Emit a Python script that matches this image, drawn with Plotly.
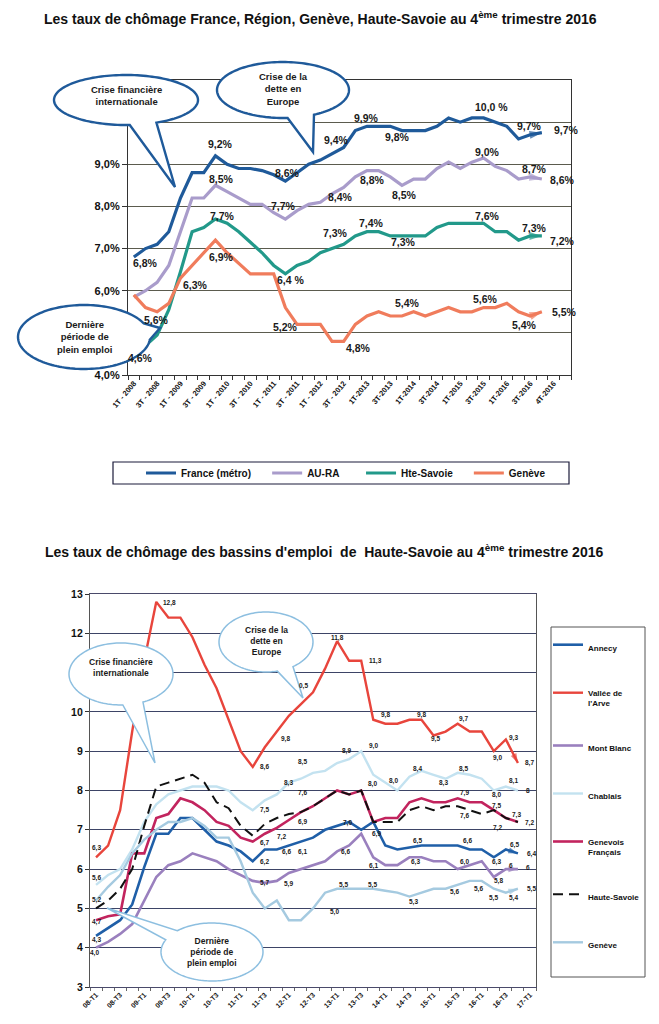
import numpy as np
import plotly.graph_objects as go

# The page body has an 8px margin, so the figure is drawn from page pixel (8, 8).
OFF = 8
W, H = 659 - OFF, 1024 - OFF
FONT = "Liberation Sans, Arial, sans-serif"

# ================= Chart 1 data =================
top_ticktext = ["1T - 2008", "3T - 2008", "1T - 2009", "3T - 2009", "1T - 2010", "3T - 2010",
                "1T - 2011", "3T - 2011", "1T - 2012", "3T - 2012", "1T-2013", "3T-2013",
                "1T-2014", "3T-2014", "1T-2015", "3T-2015", "1T-2016", "3T-2016", "4T-2016"]
top_q = list(range(36))
france = [6.8, 7.0, 7.1, 7.4, 8.2, 8.8, 8.8, 9.2, 9.0, 8.9, 8.9, 8.85, 8.75, 8.6, 8.8, 9.0, 9.1, 9.25,
          9.4, 9.8, 9.9, 9.9, 9.9, 9.8, 9.8, 9.8, 9.9, 10.1, 10.0, 10.1, 10.1, 10.0, 9.9, 9.6, 9.7, 9.75]
aura = [5.85, 6.0, 6.2, 6.6, 7.4, 8.2, 8.2, 8.5, 8.35, 8.2, 8.05, 8.05, 7.85, 7.7, 7.9, 8.05, 8.1, 8.3,
        8.45, 8.7, 8.85, 8.85, 8.7, 8.5, 8.65, 8.65, 8.9, 9.05, 8.9, 9.05, 9.15, 8.95, 8.85, 8.65, 8.7, 8.65]
hte_savoie = [4.6, 4.7, 4.95, 5.55, 6.45, 7.4, 7.5, 7.7, 7.6, 7.4, 7.15, 6.9, 6.6, 6.4, 6.6, 6.7, 6.9, 7.0,
              7.1, 7.3, 7.4, 7.4, 7.3, 7.3, 7.3, 7.3, 7.5, 7.6, 7.6, 7.6, 7.6, 7.4, 7.4, 7.2, 7.3, 7.3]
geneve_top = [5.9, 5.6, 5.5, 5.7, 6.3, 6.6, 6.9, 7.2, 6.9, 6.65, 6.4, 6.4, 6.4, 5.6, 5.2, 5.2, 5.2, 4.8,
              4.8, 5.2, 5.4, 5.5, 5.4, 5.4, 5.5, 5.4, 5.5, 5.6, 5.5, 5.5, 5.6, 5.6, 5.7, 5.5, 5.4, 5.5]

top_names = ["France (métro)", "AU-RA", "Hte-Savoie", "Genève"]
top_y_labelled = [4, 6, 7, 8, 9]      # tick labels visible in the reference
top_y_gridonly = [5, 10]              # grid lines whose labels are hidden by the bubbles

# value labels of chart 1: (quarter position, value position, text)
top_labels = [
    (0.96, 6.65, "6,8%"), (7.4, 9.48, "9,2%"), (13.2, 8.8, "8,6%"), (17.4, 9.57, "9,4%"),
    (20.0, 10.1, "9,9%"), (22.6, 9.64, "9,8%"), (30.7, 10.37, "10,0 %"), (33.9, 9.9, "9,7%"),
    (37.1, 9.82, "9,7%"),
    (7.5, 8.66, "8,5%"), (12.8, 8.02, "7,7%"), (17.7, 8.23, "8,4%"), (20.5, 8.63, "8,8%"),
    (23.2, 8.26, "8,5%"), (30.3, 9.29, "9,0%"), (34.4, 8.89, "8,7%"), (36.8, 8.63, "8,6%"),
    (0.6, 4.4, "4,6%"), (7.6, 7.78, "7,7%"), (13.5, 6.26, "6,4 %"), (17.3, 7.38, "7,3%"),
    (20.4, 7.6, "7,4%"), (23.1, 7.15, "7,3%"), (30.3, 7.78, "7,6%"), (34.4, 7.5, "7,3%"),
    (36.8, 7.19, "7,2%"),
    (7.5, 6.81, "6,9%"), (5.25, 6.14, "6,3%"), (1.96, 5.31, "5,6%"), (13.0, 5.15, "5,2%"),
    (19.25, 4.63, "4,8%"), (23.5, 5.7, "5,4%"), (30.2, 5.8, "5,6%"), (33.5, 5.19, "5,4%"),
    (36.9, 5.49, "5,5%"),
]

# ================= Chart 2 data =================
bot_ticktext = ["08-T1", "08-T3", "09-T1", "09-T3", "10-T1", "10-T3", "11-T1", "11-T3", "12-T1",
                "12-T3", "13-T1", "13-T3", "14-T1", "14-T3", "15-T1", "15-T3", "16-T1", "16-T3", "17-T1"]
bot_q = list(range(36))
annecy = [4.3, 4.5, 4.7, 5.1, 6.05, 6.9, 6.9, 7.3, 7.3, 7.0, 6.7, 6.6, 6.45, 6.2, 6.5, 6.5, 6.6, 6.7,
          6.8, 7.0, 7.1, 7.2, 7.0, 7.2, 6.6, 6.5, 6.55, 6.6, 6.6, 6.6, 6.6, 6.5, 6.5, 6.3, 6.5, 6.4]
arve = [6.3, 6.6, 7.5, 9.5, 11.3, 12.8, 12.4, 12.4, 11.9, 11.2, 10.6, 9.8, 9.0, 8.6, 9.1, 9.5, 9.9, 10.2,
        10.5, 11.1, 11.8, 11.3, 11.3, 9.8, 9.7, 9.7, 9.8, 9.8, 9.4, 9.5, 9.7, 9.5, 9.5, 9.0, 9.3, 8.7]
mont_blanc = [4.0, 4.15, 4.35, 4.6, 5.2, 5.8, 6.1, 6.2, 6.4, 6.3, 6.2, 6.0, 5.85, 5.7, 5.65, 5.7, 5.9, 6.0,
              6.1, 6.2, 6.45, 6.6, 6.9, 6.3, 6.1, 6.1, 6.3, 6.3, 6.2, 6.2, 6.0, 6.1, 6.2, 5.8, 6.0, 6.0]
chablais = [5.6, 5.85, 6.0, 6.5, 7.2, 7.65, 7.9, 8.0, 8.1, 8.1, 8.1, 8.0, 7.7, 7.5, 7.75, 7.9, 8.2, 8.3,
            8.45, 8.5, 8.7, 8.8, 9.0, 8.4, 8.2, 8.0, 8.35, 8.5, 8.4, 8.3, 8.45, 8.4, 8.3, 8.0, 8.1, 8.0]
genevois = [4.7, 4.8, 4.85, 6.4, 6.4, 7.3, 7.4, 7.8, 7.7, 7.5, 7.2, 7.1, 6.8, 6.7, 6.9, 7.05, 7.25, 7.45,
            7.6, 7.8, 8.0, 7.9, 8.0, 7.2, 7.3, 7.3, 7.7, 7.8, 7.7, 7.7, 7.8, 7.7, 7.7, 7.5, 7.3, 7.2]
haute_savoie = [5.0, 5.2, 5.5, 6.0, 7.1, 8.1, 8.2, 8.3, 8.4, 8.2, 7.7, 7.55, 7.1, 6.85, 7.15, 7.3, 7.4, 7.45,
                7.6, 7.8, 8.0, 7.9, 8.0, 7.2, 7.2, 7.2, 7.5, 7.6, 7.5, 7.6, 7.6, 7.5, 7.4, 7.5, 7.3, 7.2]
geneve_bot = [5.2, 5.55, 5.85, 6.4, 6.75, 7.0, 7.2, 7.2, 7.3, 7.1, 6.8, 6.8, 6.2, 5.4, 5.0, 5.2, 4.7, 4.7,
              5.0, 5.4, 5.5, 5.5, 5.5, 5.5, 5.45, 5.4, 5.3, 5.4, 5.5, 5.5, 5.6, 5.7, 5.7, 5.5, 5.4, 5.5]

bot_names = ["Annecy", "Vallée de<br>l'Arve", "Mont Blanc", "Chablais", "Genevois<br>Français",
             "Haute-Savoie", "Genève"]

bot_labels = [
    (6.1, 12.78, "12,8"), (0.0, 6.53, "6,3"), (0.0, 5.77, "5,6"), (0.05, 5.21, "5,2"),
    (0.05, 4.66, "4,7"), (0.05, 4.2, "4,3"), (-0.1, 3.86, "4,0"),
    (14.0, 7.5, "7,5"), (17.1, 7.19, "6,9"), (15.4, 6.82, "7,2"), (14.0, 6.67, "6,7"),
    (15.8, 6.44, "6,6"), (17.1, 6.44, "6,1"), (14.0, 6.19, "6,2"), (14.0, 5.64, "5,7"),
    (16.0, 5.62, "5,9"), (17.1, 7.93, "7,6"), (16.0, 8.2, "8,3"), (17.1, 8.73, "8,5"),
    (15.7, 9.32, "9,8"), (14.0, 8.59, "8,6"), (17.2, 10.66, "0,5"),
    (20.0, 11.87, "11,8"), (23.15, 11.3, "11,3"), (24.0, 9.92, "9,8"), (27.0, 9.92, "9,8"),
    (28.2, 9.3, "9,5"), (30.5, 9.81, "9,7"), (33.3, 8.83, "9,0"), (34.6, 9.33, "9,3"),
    (36.0, 8.69, "8,7"),
    (20.8, 9.01, "8,9"), (23.0, 9.14, "9,0"), (22.9, 8.17, "8,0"), (24.7, 8.24, "8,0"),
    (26.7, 8.54, "8,4"), (28.8, 8.2, "8,3"), (30.5, 8.54, "8,5"), (33.25, 7.89, "8,0"),
    (34.6, 8.24, "8,1"), (35.8, 8.0, "8"),
    (30.6, 7.94, "7,9"), (33.2, 7.61, "7,5"), (30.6, 7.35, "7,6"), (34.9, 7.38, "7,3"),
    (33.3, 7.05, "7,2"), (36.0, 7.18, "7,2"),
    (20.9, 7.17, "7,0"), (23.3, 6.89, "6,9"), (26.7, 6.72, "6,5"), (30.8, 6.72, "6,6"),
    (34.7, 6.61, "6,5"), (36.1, 6.38, "6,4"),
    (20.7, 6.44, "6,6"), (23.0, 6.09, "6,1"), (26.5, 6.19, "6,3"), (30.6, 6.19, "6,0"),
    (33.25, 6.19, "6,3"), (33.4, 5.7, "5,8"), (34.4, 6.1, "6"), (35.8, 6.05, "6"),
    (20.5, 5.6, "5,5"), (22.9, 5.6, "5,5"), (26.3, 5.16, "5,3"), (19.8, 4.92, "5,0"),
    (29.7, 5.42, "5,6"), (31.7, 5.49, "5,6"), (33.0, 5.26, "5,5"), (34.6, 5.26, "5,4"),
    (36.1, 5.49, "5,5"),
]

# ================= helpers (layout geometry in page pixels) =================
def px(x):
    return (x - OFF) / W


def py(y):
    return 1 - (y - OFF) / H


def bubble_path(cx, cy, rx, ry, a_from, a_to, tip):
    th = np.radians(np.linspace(a_from, a_to, 140))
    pts = list(zip(cx + rx * np.cos(th), cy + ry * np.sin(th))) + [tip]
    return "M " + " L ".join(f"{px(x):.5f},{py(y):.5f}" for x, y in pts) + " Z"


fig = go.Figure()

# ---------------- chart 1 traces ----------------
top_colors = ["#1F5A9A", "#A99CCB", "#22998A", "#F07C5C"]
top_series = [france, aura, hte_savoie, geneve_top]
NB = "\u00a0"
top_pad = [NB * 4, NB * 6, NB * 4, ""]   # spacing of the horizontal legend entries
for name, pad, ys, col in zip(top_names, top_pad, top_series, top_colors):
    fig.add_trace(go.Scatter(x=top_q, y=ys, mode="lines", name=name + pad,
                             line=dict(color=col, width=3.2),
                             xaxis="x", yaxis="y", legend="legend", legendgroup=name))
for ys, col in zip(top_series, top_colors):
    fig.add_trace(go.Scatter(x=top_q[-2:], y=ys[-2:], mode="markers", showlegend=False,
                             hoverinfo="skip", xaxis="x", yaxis="y",
                             marker=dict(symbol="arrow", angleref="previous", size=[0, 13],
                                         color=col, line=dict(width=0))))

# ---------------- chart 2 traces ----------------
bot_series = [annecy, arve, mont_blanc, chablais, genevois, haute_savoie, geneve_bot]
bot_colors = ["#1F5FA8", "#E8453C", "#9A80BE", "#C3E2F0", "#C2245E", "#111111", "#A5CAE0"]
bot_dash = ["solid", "solid", "solid", "solid", "solid", "10px,6px", "solid"]
bot_width = [2.6, 2.4, 2.6, 2.4, 2.6, 2.0, 2.4]
for name, ys, col, d, w in zip(bot_names, bot_series, bot_colors, bot_dash, bot_width):
    fig.add_trace(go.Scatter(x=bot_q, y=ys, mode="lines", name=name,
                             line=dict(color=col, width=w, dash=d),
                             xaxis="x2", yaxis="y2", legend="legend2", legendgroup=name))
for ys, col in zip([annecy, arve, mont_blanc, geneve_bot], ["#1F5FA8", "#E8453C", "#9A80BE", "#A5CAE0"]):
    fig.add_trace(go.Scatter(x=bot_q[-2:], y=ys[-2:], mode="markers", showlegend=False,
                             hoverinfo="skip", xaxis="x2", yaxis="y2",
                             marker=dict(symbol="arrow", angleref="previous", size=[0, 10],
                                         color=col, line=dict(width=0))))

# ---------------- annotations ----------------
ann = []
ann.append(dict(text="Les taux de chômage France, Région, Genève, Haute-Savoie au 4<sup>ème</sup> trimestre 2016",
                x=px(320), y=py(18), xref="paper", yref="paper", showarrow=False,
                xanchor="center", yanchor="middle",
                font=dict(family=FONT, size=14, color="#111", weight="bold")))
ann.append(dict(text="Les taux de chômage des bassins d'emploi\u00a0 de\u00a0 Haute-Savoie au 4<sup>ème</sup> trimestre 2016",
                x=px(324), y=py(551), xref="paper", yref="paper", showarrow=False,
                xanchor="center", yanchor="middle",
                font=dict(family=FONT, size=14, color="#111", weight="bold")))
for x, y, t in top_labels:
    ann.append(dict(text=t, x=x, y=y, xref="x", yref="y", showarrow=False,
                    font=dict(family=FONT, size=10.5, color="#1a1a1a", weight="bold")))
for x, y, t in bot_labels:
    ann.append(dict(text=t, x=x, y=y, xref="x2", yref="y2", showarrow=False,
                    font=dict(family=FONT, size=6.5, color="#1a1a1a", weight="bold")))

# speech bubbles (page pixels): centre, radii, arc range, tail tip, text centre y, text, style
bubbles = [
    ((126, 100), (72, 25), (87, 425), (175, 187), 96, "Crise financière<br>internationale", "#1F5A9A", 2.4, 9.5),
    ((283, 90), (66, 28), (86, 422), (313, 152), 89, "Crise de la<br>dette en<br>Europe", "#1F5A9A", 2.4, 9.5),
    ((84, 337), (66, 32), (5, 335), (160, 328), 337, "Dernière<br>période de<br>plein emploi", "#1F5A9A", 2.4, 9.5),
    ((121, 674), (52, 31), (88, 425), (155, 763), 667, "Crise financière<br>internationale", "#8DBFE0", 1.5, 8.5),
    ((266, 642), (47, 30), (76, 415), (303, 698), 641, "Crise de la<br>dette en<br>Europe", "#8DBFE0", 1.5, 8.5),
    ((212, 952), (51, 29), (227, 565), (107, 908), 952, "Dernière<br>période de<br>plein emploi", "#8DBFE0", 1.5, 8.5),
]
shapes = []
for (cx, cy), (rx, ry), (a0, a1), tip, ty, txt, col, lw, fs in bubbles:
    shapes.append(dict(type="path", path=bubble_path(cx, cy, rx, ry, a0, a1, tip),
                       xref="paper", yref="paper", fillcolor="white",
                       line=dict(color=col, width=lw), layer="above"))
    ann.append(dict(text=txt, x=px(cx), y=py(ty), xref="paper", yref="paper", showarrow=False,
                    xanchor="center", yanchor="middle",
                    font=dict(family=FONT, size=fs, color="#1a1a1a", weight="bold")))

# legend frames
shapes.append(dict(type="rect", xref="paper", yref="paper", x0=px(113), x1=px(569), y0=py(484), y1=py(462),
                   line=dict(color="#1b1b3a", width=1.2), fillcolor="rgba(0,0,0,0)", layer="below"))
shapes.append(dict(type="rect", xref="paper", yref="paper", x0=px(551), x1=px(645), y0=py(977), y1=py(627),
                   line=dict(color="#555555", width=1), fillcolor="rgba(0,0,0,0)", layer="below"))

tickfont_b = dict(family=FONT, color="#111", weight="bold")

fig.update_layout(
    width=W, height=H,
    margin=dict(l=0, r=0, t=0, b=0, autoexpand=False),
    paper_bgcolor="white", plot_bgcolor="white",
    showlegend=True,
    annotations=ann, shapes=shapes,
    xaxis=dict(domain=[px(128), px(571)], range=[-0.5, 37.5], anchor="y",
               tickmode="array", tickvals=list(range(0, 37, 2)), ticktext=top_ticktext,
               tickangle=-50, ticks="", showgrid=False, zeroline=False,
               showline=True, linecolor="#333", linewidth=1.2, mirror=True,
               tickfont=dict(size=7.5, **tickfont_b),
               minor=dict(tickmode="array", tickvals=[k - 0.5 for k in range(39)],
                          ticks="outside", ticklen=4, tickcolor="#333", showgrid=False)),
    yaxis=dict(domain=[py(375), py(80)], range=[4, 11], anchor="x",
               tickmode="array", tickvals=top_y_labelled,
               ticktext=[f"{v},0%" for v in top_y_labelled],
               ticks="outside", ticklen=5, tickcolor="#333",
               showgrid=True, gridcolor="#5b5b4e", gridwidth=1, zeroline=False,
               showline=True, linecolor="#333", linewidth=1.2, mirror=True,
               tickfont=dict(size=11, **tickfont_b),
               minor=dict(tickmode="array", tickvals=top_y_gridonly, ticks="",
                          showgrid=True, gridcolor="#5b5b4e", gridwidth=1)),
    xaxis2=dict(domain=[px(90), px(536)], range=[-0.5, 36.5], anchor="y2",
                tickmode="array", tickvals=list(range(0, 37, 2)), ticktext=bot_ticktext,
                tickangle=-45, ticks="", showgrid=False, zeroline=False,
                showline=True, linecolor="#4a4a6a", linewidth=1.2, mirror=True,
                tickfont=dict(size=7, **tickfont_b),
                minor=dict(tickmode="array", tickvals=[k - 0.5 for k in range(38)],
                           ticks="outside", ticklen=3, tickcolor="#666", showgrid=False)),
    yaxis2=dict(domain=[py(987), py(594)], range=[3, 13], anchor="x2",
                tickmode="array", tickvals=list(range(3, 14)),
                ticks="outside", ticklen=4, tickcolor="#333",
                showgrid=True, gridcolor="#3d4466", gridwidth=1, zeroline=False,
                showline=True, linecolor="#555", linewidth=1.2, mirror=True,
                tickfont=dict(size=10.5, **tickfont_b)),
    legend=dict(orientation="h", x=px(141), xanchor="left", y=py(473), yanchor="middle",
                bgcolor="rgba(0,0,0,0)", borderwidth=0,
                font=dict(family=FONT, size=10, color="#111", weight="bold")),
    legend2=dict(orientation="v", x=px(548), xanchor="left", y=py(633), yanchor="top",
                 bgcolor="rgba(0,0,0,0)", borderwidth=0, tracegroupgap=29, valign="top",
                 font=dict(family=FONT, size=8, color="#111", weight="bold")),
)

fig.write_html("out.html")
